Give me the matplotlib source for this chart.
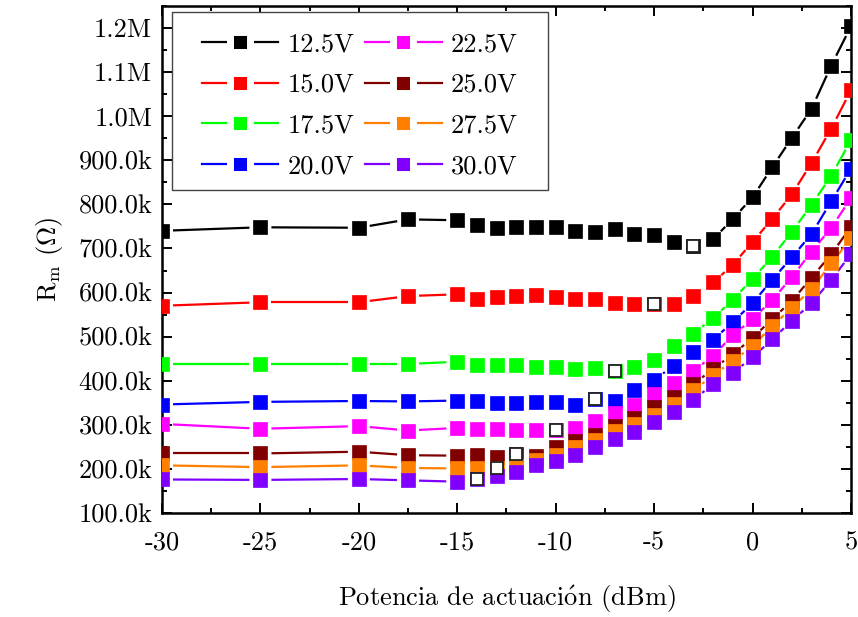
import numpy as np
import matplotlib
matplotlib.use("Agg")
import matplotlib.pyplot as plt
from matplotlib.collections import LineCollection
from matplotlib.lines import Line2D
from matplotlib.patches import Rectangle
from matplotlib.ticker import FixedLocator, MultipleLocator

plt.rcParams["font.family"] = "serif"
plt.rcParams["font.serif"] = ["cmr10"]
plt.rcParams["mathtext.fontset"] = "cm"
plt.rcParams["axes.unicode_minus"] = False
plt.rcParams["axes.formatter.use_mathtext"] = True

# drive power sweep (dBm)
power_dbm = [-30, -25, -20, -17.5, -15, -14, -13, -12, -11, -10, -9, -8, -7,
             -6, -5, -4, -3, -2, -1, 0, 1, 2, 3, 4, 5]

# motional resistance per bias voltage (kOhm)
rm_125 = [740, 748, 747, 766, 764, 753, 746, 749, 749, 749, 740, 737, 744,
          733, 731, 714, 706, 721, 767, 816, 884, 951, 1017, 1115, 1204]
rm_150 = [570, 578, 578, 592, 596, 586, 589, 592, 594, 590, 586, 585, 576,
          574, 574, 574, 592, 623, 663, 715, 767, 823, 894, 972, 1059]
rm_175 = [438, 438, 438, 438, 443, 435, 435, 436, 430, 430, 426, 429, 423,
          430, 447, 478, 507, 542, 584, 631, 681, 738, 799, 865, 946]
rm_200 = [346, 352, 354, 353, 355, 355, 350, 350, 351, 351, 344, 358, 353,
          379, 402, 434, 465, 493, 533, 576, 629, 680, 733, 807, 881]
rm_225 = [302, 291, 297, 287, 293, 291, 290, 288, 288, 288, 292, 309, 326,
          345, 370, 395, 422, 457, 503, 540, 583, 635, 693, 747, 814]
rm_250 = [235, 235, 239, 231, 230, 231, 226, 234, 229, 249, 263, 277, 298,
          316, 340, 364, 392, 427, 460, 497, 540, 581, 634, 687, 749]
rm_275 = [208, 204, 208, 202, 201, 201, 202, 207, 220, 232, 249, 266, 287,
          302, 323, 348, 378, 412, 445, 478, 524, 565, 608, 666, 723]
rm_300 = [176, 175, 177, 174, 171, 177, 183, 193, 208, 217, 232, 250, 268,
          283, 306, 329, 357, 392, 418, 453, 494, 536, 576, 629, 687]

series_labels = ["12.5V", "15.0V", "17.5V", "20.0V", "22.5V", "25.0V", "27.5V", "30.0V"]
series_values = [rm_125, rm_150, rm_175, rm_200, rm_225, rm_250, rm_275, rm_300]
series_colors = ["#000000", "#ff0000", "#00ff00", "#0000ff",
                 "#ff00ff", "#800000", "#ff8000", "#8000ff"]
# onset of nonlinearity, drawn as a hollow square on each curve
onset_dbm = [-3, -5, -7, -8, -10, -12, -13, -14]

xtick_values = [-30, -25, -20, -15, -10, -5, 0, 5]
xtick_labels = ["-30", "-25", "-20", "-15", "-10", "-5", "0", "5"]
ytick_values = [100e3, 200e3, 300e3, 400e3, 500e3, 600e3, 700e3, 800e3,
                900e3, 1.0e6, 1.1e6, 1.2e6]
ytick_labels = ["100.0k", "200.0k", "300.0k", "400.0k", "500.0k", "600.0k",
                "700.0k", "800.0k", "900.0k", "1.0M", "1.1M", "1.2M"]

FS = 19
fig = plt.figure(figsize=(8.58, 6.17), dpi=100)
ax = fig.add_axes([0.1888, 0.1686, 0.8030, 0.8217])
ax.set_xlim(-30, 5)
ax.set_ylim(100e3, 1.25e6)


def gapped_segments(ax, x, y, r_px):
    """Line pieces between consecutive points, cut back r_px around each marker."""
    pts = ax.transData.transform(np.column_stack([x, y]))
    inv = ax.transData.inverted()
    segs = []
    for p0, p1 in zip(pts[:-1], pts[1:]):
        d = p1 - p0
        L = np.hypot(*d)
        if L <= 2 * r_px + 2:
            continue
        u = d / L
        segs.append(inv.transform(np.array([p0 + u * r_px, p1 - u * r_px])))
    return segs


x = np.array(power_dbm, dtype=float)
handles = []
for lab, vals, col in zip(series_labels, series_values, series_colors):
    y = np.array(vals, dtype=float) * 1e3
    lc = LineCollection(gapped_segments(ax, x, y, 11), colors=col, linewidths=1.6, zorder=2)
    ax.add_collection(lc)
    ax.plot(x, y, ls="none", marker="s", ms=9.4, mfc=col, mec=col, mew=0.5, zorder=3)
    handles.append(Line2D([], [], color=col, lw=1.6, marker="s", ms=15, mfc=col,
                          mec="white", mew=5))

for xo, vals in zip(onset_dbm, series_values):
    i = power_dbm.index(xo)
    ax.plot([xo], [vals[i] * 1e3], ls="none", marker="s", ms=9.0, mfc="white",
            mec="#222222", mew=1.3, zorder=5)

ax.xaxis.set_major_locator(FixedLocator(xtick_values))
ax.set_xticklabels(xtick_labels)
ax.xaxis.set_minor_locator(MultipleLocator(2.5))
ax.yaxis.set_major_locator(FixedLocator(ytick_values))
ax.set_yticklabels(ytick_labels)
ax.yaxis.set_minor_locator(MultipleLocator(50e3))

ax.tick_params(which="both", direction="in", top=True, right=True, width=1.4)
ax.tick_params(which="major", length=7, labelsize=FS)
ax.tick_params(which="minor", length=3.8)
ax.tick_params(axis="x", which="major", pad=13)
ax.tick_params(axis="y", which="major", pad=7)
for sp in ax.spines.values():
    sp.set_linewidth(1.8)

ax.set_xlabel(r"Potencia de actuaci$\mathrm{\acute{o}}$n (dBm)", fontsize=FS, labelpad=21)
ax.set_ylabel(r"R$_{\mathrm{m}}$ ($\Omega$)", fontsize=FS, labelpad=10)

# legend box drawn separately so the padding around the entries can be set freely
ax.add_patch(Rectangle((0.0145, 0.6371), 0.5457, 0.3511, transform=ax.transAxes,
                       facecolor="white", edgecolor="#444444", lw=1.0, zorder=6))
leg = ax.legend(handles, series_labels, ncol=2, loc="upper left",
                bbox_to_anchor=(0.058, 0.948), fontsize=FS, frameon=False,
                handlelength=2.9, handletextpad=0.35, columnspacing=0.4,
                labelspacing=0.645, borderpad=0.0, borderaxespad=0.0, numpoints=1)
leg.set_zorder(7)

fig.savefig("out.png", dpi=100)
